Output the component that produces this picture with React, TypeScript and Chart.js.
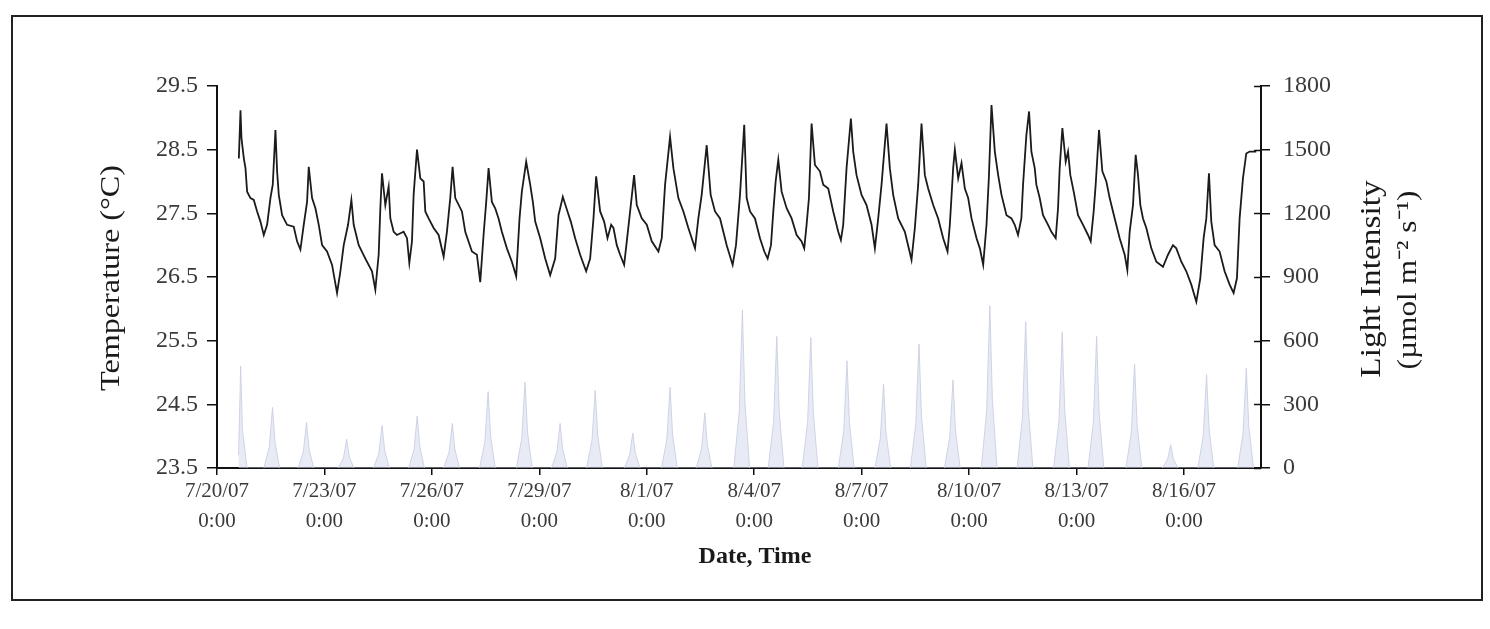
import React, { useEffect, useRef } from 'react';
import { Chart, registerables } from 'chart.js';

Chart.register(...registerables);

// Time axis: days since 7/20/07 0:00
const xTickDays = [0, 3, 6, 9, 12, 15, 18, 21, 24, 27];
const xTickDates = ['7/20/07', '7/23/07', '7/26/07', '7/29/07', '8/1/07', '8/4/07', '8/7/07', '8/10/07', '8/13/07', '8/16/07'];
const xTickTime = '0:00';
const xMin = 0;
const xMax = 29.15;

const tempTicks = [23.5, 24.5, 25.5, 26.5, 27.5, 28.5, 29.5];
const lightTicks = [0, 300, 600, 900, 1200, 1500, 1800];

const yTitle = 'Temperature (°C)';
const y1TitleLines = ['Light Intensity', '(µmol m⁻² s⁻¹)'];
const xTitle = 'Date, Time';

// Temperature (°C) readings
const tempDays = [
  0.61, 0.656, 0.683, 0.75, 0.795, 0.841, 0.934, 1.027, 1.12, 1.213, 1.306, 1.399, 1.492, 1.557, 1.632, 1.678, 1.725, 1.818, 1.957,
  2.143, 2.236, 2.329, 2.422, 2.515, 2.562, 2.655, 2.748, 2.841, 2.934, 3.073, 3.213, 3.352, 3.445, 3.538, 3.659, 3.752, 3.817, 3.957,
  4.142, 4.328, 4.421, 4.514, 4.561, 4.607, 4.7, 4.793, 4.84, 4.933, 5.025, 5.211, 5.305, 5.37, 5.444, 5.49, 5.584, 5.677, 5.77, 5.816,
  5.909, 6.049, 6.188, 6.328, 6.42, 6.513, 6.578, 6.653, 6.839, 6.932, 7.118, 7.257, 7.35,
  7.443, 7.517, 7.583, 7.675, 7.768, 7.861, 7.954, 8.094, 8.233, 8.354, 8.447, 8.512, 8.633, 8.745, 8.819, 8.885, 9.024, 9.164, 9.303,
  9.442, 9.535, 9.656, 9.786, 9.879, 10.0, 10.14, 10.307, 10.419, 10.512, 10.586, 10.698, 10.81, 10.903, 11.005, 11.07, 11.163, 11.256,
  11.368, 11.442, 11.535, 11.646, 11.721, 11.86, 12.0, 12.139, 12.325, 12.418, 12.511, 12.65, 12.743, 12.882, 13.022, 13.161, 13.347,
  13.44, 13.533, 13.673, 13.784, 13.905, 14.045, 14.231, 14.398, 14.491, 14.603, 14.721,
  14.789, 14.882, 15.021, 15.161, 15.282, 15.375, 15.468, 15.533, 15.598, 15.672, 15.765, 15.905, 16.044, 16.184, 16.323, 16.397, 16.462,
  16.528, 16.602, 16.695, 16.834, 16.927, 17.067, 17.206, 17.346, 17.42, 17.485, 17.578, 17.699, 17.764, 17.857, 17.997, 18.136, 18.276,
  18.369, 18.462, 18.555, 18.694, 18.787, 18.88, 19.02, 19.206, 19.392, 19.485, 19.578, 19.671, 19.764, 19.857, 19.997, 20.136, 20.276,
  20.397, 20.462, 20.555, 20.602, 20.695, 20.788, 20.881, 20.974, 21.067, 21.207, 21.3, 21.393, 21.486, 21.551, 21.625, 21.718, 21.811,
  21.904, 22.044, 22.183,
  22.274, 22.366, 22.459, 22.506, 22.599, 22.674, 22.739, 22.832, 22.878, 22.971, 23.064, 23.204, 23.297, 23.418, 23.483, 23.529, 23.604,
  23.697, 23.762, 23.827, 23.92, 24.041, 24.181, 24.32, 24.395, 24.478, 24.534, 24.627, 24.72, 24.832, 24.925, 25.065, 25.204, 25.344,
  25.418, 25.483, 25.576, 25.651, 25.716, 25.781, 25.855, 25.948, 26.088, 26.227, 26.413, 26.553, 26.692, 26.785, 26.925, 27.064, 27.204,
  27.344, 27.455, 27.548, 27.623, 27.697, 27.762, 27.855, 27.995, 28.134, 28.274, 28.385, 28.478, 28.553, 28.646, 28.739, 28.832, 29.018,
];
const tempValues = [
  28.36, 29.12, 28.68, 28.36, 28.21, 27.84, 27.74, 27.71, 27.53, 27.37, 27.16, 27.32, 27.74, 27.95, 28.81, 28.16, 27.79, 27.47, 27.32,
  27.29, 27.06, 26.93, 27.32, 27.68, 28.23, 27.74, 27.58, 27.32, 27.0, 26.9, 26.69, 26.25, 26.59, 27.0, 27.32, 27.71, 27.32, 27.0,
  26.79, 26.59, 26.3, 26.85, 27.58, 28.13, 27.63, 27.92, 27.42, 27.21, 27.16, 27.21, 27.11, 26.72, 27.06, 27.79, 28.5, 28.05, 28.0, 27.53,
  27.42, 27.27, 27.16, 26.82, 27.21, 27.74, 28.23, 27.74, 27.53, 27.21, 26.9, 26.85, 26.42,
  27.16, 27.68, 28.21, 27.68, 27.58, 27.42, 27.21, 26.95, 26.74, 26.51, 27.42, 27.84, 28.31, 27.95, 27.68, 27.37, 27.11, 26.79, 26.53,
  26.79, 27.47, 27.76, 27.53, 27.37, 27.11, 26.85, 26.59, 26.79, 27.42, 28.08, 27.53, 27.37, 27.11, 27.32, 27.27, 27.0, 26.85,
  26.69, 27.06, 27.53, 28.1, 27.63, 27.42, 27.32, 27.06, 26.9, 27.11, 27.95, 28.7, 28.21, 27.74, 27.53, 27.27, 26.95,
  27.42, 27.79, 28.57, 27.79, 27.53, 27.42, 27.0, 26.69, 27.0, 27.79, 28.89,
  27.74, 27.53, 27.42, 27.11, 26.9, 26.79, 27.0, 27.53, 28.0, 28.34, 27.84, 27.58, 27.42, 27.16, 27.06, 26.95, 27.32,
  27.74, 28.91, 28.26, 28.16, 27.95, 27.89, 27.53, 27.21, 27.08, 27.32, 28.21, 28.99, 28.47, 28.1, 27.79, 27.63, 27.32,
  26.95, 27.42, 27.95, 28.91, 28.21, 27.79, 27.42, 27.21, 26.77, 27.27, 27.95, 28.91, 28.1, 27.89, 27.63, 27.42, 27.11,
  26.9, 27.32, 28.21, 28.5, 28.05, 28.29, 27.89, 27.74, 27.42, 27.11, 26.95, 26.69, 27.32, 28.05, 29.2, 28.47, 28.1,
  27.79, 27.47, 27.42,
  27.32, 27.16, 27.42, 27.95, 28.73, 29.1, 28.47, 28.21, 27.95, 27.74, 27.47, 27.32, 27.21, 27.11, 27.58, 28.21, 28.84,
  28.31, 28.47, 28.1, 27.84, 27.47, 27.32, 27.16, 27.06, 27.53, 27.95, 28.81, 28.16, 28.0, 27.74, 27.42, 27.11, 26.85,
  26.61, 27.21, 27.63, 28.42, 28.1, 27.63, 27.42, 27.27, 26.95, 26.74, 26.66, 26.85, 27.0, 26.95, 26.74, 26.59, 26.38,
  26.11, 26.48, 27.11, 27.42, 28.13, 27.37, 27.0, 26.9, 26.59, 26.38, 26.25, 26.48, 27.42, 28.05, 28.44, 28.47, 28.47,
];

// Light intensity (µmol m-2 s-1) readings, one spike per day
const lightDays = [
  0.6, 0.63, 0.66, 0.71, 0.84,
  1.31, 1.46, 1.55, 1.62, 1.75,
  2.26, 2.41, 2.5, 2.57, 2.7,
  3.38, 3.53, 3.62, 3.69, 3.82,
  4.37, 4.52, 4.61, 4.68, 4.81,
  5.35, 5.5, 5.59, 5.66, 5.79,
  6.33, 6.48, 6.57, 6.64, 6.77,
  7.33, 7.48, 7.57, 7.64, 7.77,
  8.36, 8.51, 8.6, 8.67, 8.8,
  9.34, 9.49, 9.58, 9.65, 9.78,
  10.32, 10.47, 10.56, 10.63, 10.76,
  11.37, 11.52, 11.61, 11.68, 11.81,
  12.41, 12.56, 12.65, 12.72, 12.85,
  13.38, 13.53, 13.62, 13.69, 13.82,
  14.43, 14.58, 14.67, 14.74, 14.87,
  15.39, 15.54, 15.63, 15.7, 15.83,
  16.34, 16.49, 16.58, 16.65, 16.78,
  17.35, 17.5, 17.59, 17.66, 17.79,
  18.37, 18.52, 18.61, 18.68, 18.81,
  19.36, 19.51, 19.6, 19.67, 19.8,
  20.31, 20.46, 20.55, 20.62, 20.75,
  21.34, 21.49, 21.58, 21.65, 21.78,
  22.34, 22.49, 22.58, 22.65, 22.78,
  23.36, 23.51, 23.6, 23.67, 23.8,
  24.32, 24.47, 24.56, 24.63, 24.76,
  25.38, 25.53, 25.62, 25.69, 25.82,
  26.39, 26.54, 26.63, 26.7, 26.83,
  27.39, 27.54, 27.63, 27.7, 27.83,
  28.5, 28.65, 28.74, 28.81, 28.94,
];
const lightValues = [
  60, 250, 480, 180, 0,
  0, 100, 285, 120, 0,
  0, 75, 215, 90, 0,
  0, 45, 135, 55, 0,
  0, 70, 200, 85, 0,
  0, 85, 245, 105, 0,
  0, 75, 210, 90, 0,
  0, 125, 360, 150, 0,
  0, 140, 405, 170, 0,
  0, 75, 210, 90, 0,
  0, 130, 365, 155, 0,
  0, 60, 165, 70, 0,
  0, 135, 380, 160, 0,
  0, 90, 260, 110, 0,
  0, 260, 745, 310, 0,
  0, 215, 620, 260, 0,
  0, 215, 615, 260, 0,
  0, 175, 505, 210, 0,
  0, 140, 395, 165, 0,
  0, 205, 585, 245, 0,
  0, 145, 415, 175, 0,
  0, 270, 765, 320, 0,
  0, 240, 690, 290, 0,
  0, 225, 640, 270, 0,
  0, 215, 620, 260, 0,
  0, 170, 490, 205, 0,
  0, 40, 110, 45, 0,
  0, 155, 440, 185, 0,
  0, 165, 470, 195, 0,
];

const FONT = '"Liberation Serif", "Times New Roman", serif';
const AXIS_COLOR = '#111111';
const TICK_COLOR = '#3a3a3a';

const decorPlugin = {
  id: 'decor',
  afterDraw(chart: any) {
    const ctx = chart.ctx as CanvasRenderingContext2D;
    const area = chart.chartArea;
    const y1 = chart.scales.y1;
    ctx.save();
    // inner half of the crossing ticks on the right axis
    ctx.strokeStyle = AXIS_COLOR;
    ctx.lineWidth = 1.5;
    for (const v of lightTicks) {
      const py = Math.round(y1.getPixelForValue(v)) + 0.5;
      ctx.beginPath();
      ctx.moveTo(area.right - 7, py);
      ctx.lineTo(area.right, py);
      ctx.stroke();
    }
    ctx.fillStyle = '#1a1a1a';
    ctx.textAlign = 'center';
    ctx.textBaseline = 'middle';
    const drawRot = (text: string, x: number, y: number, font: string, sx: number) => {
      ctx.save();
      ctx.translate(x, y);
      ctx.rotate(-Math.PI / 2);
      ctx.scale(sx, 1);
      ctx.font = font;
      ctx.fillText(text, 0, 0);
      ctx.restore();
    };
    drawRot(yTitle, 112, 278, `28px ${FONT}`, 1.15);
    drawRot(y1TitleLines[0], 1372, 279, `29px ${FONT}`, 1.15);
    drawRot(y1TitleLines[1], 1409, 280, `28px ${FONT}`, 1.12);
    ctx.font = `bold 24px ${FONT}`;
    ctx.fillText(xTitle, 755, 557);
    ctx.restore();
  },
};

export default function App() {
  const ref = useRef<HTMLCanvasElement>(null);

  useEffect(() => {
    const canvas = ref.current;
    if (!canvas) return;
    const tempData = tempDays.map((d, i) => ({ x: d, y: tempValues[i] }));
    const lightData = lightDays.map((d, i) => ({ x: d, y: lightValues[i] }));

    const chart = new Chart(canvas, {
      type: 'line',
      data: {
        datasets: [
          {
            label: 'Temperature',
            data: tempData,
            yAxisID: 'y',
            borderColor: '#1b1b1b',
            borderWidth: 1.8,
            pointRadius: 0,
            tension: 0,
            fill: false,
            order: 0,
          },
          {
            label: 'Light Intensity',
            data: lightData,
            yAxisID: 'y1',
            borderColor: 'rgba(200,206,226,0.85)',
            backgroundColor: 'rgba(214,219,236,0.55)',
            borderWidth: 1,
            pointRadius: 0,
            tension: 0,
            fill: 'origin',
            order: 1,
          },
        ],
      },
      options: {
        animation: false,
        responsive: false,
        maintainAspectRatio: false,
        devicePixelRatio: 1,
        parsing: false as any,
        layout: { padding: { top: 86, left: 0, right: 0, bottom: 0 } },
        plugins: {
          legend: { display: false },
          tooltip: { enabled: false },
          title: { display: false },
        },
        scales: {
          x: {
            type: 'linear',
            position: 'bottom',
            min: xMin,
            max: xMax,
            afterBuildTicks: (s: any) => {
              s.ticks = xTickDays.map((v) => ({ value: v }));
            },
            afterFit: (s: any) => {
              s.height = 161;
            },
            ticks: {
              autoSkip: false,
              maxRotation: 0,
              minRotation: 0,
              padding: 2,
              color: TICK_COLOR,
              font: { family: FONT, size: 21, lineHeight: 1.4 },
              callback: (v: any) => {
                const i = xTickDays.indexOf(Number(v));
                return i >= 0 ? [xTickDates[i], xTickTime] : '';
              },
            },
            grid: {
              display: true,
              drawOnChartArea: false,
              drawTicks: true,
              tickLength: 7,
              color: AXIS_COLOR,
              lineWidth: 1.5,
            },
            border: { display: true, color: AXIS_COLOR, width: 2 },
          },
          y: {
            type: 'linear',
            position: 'left',
            min: 23.5,
            max: 29.5,
            afterBuildTicks: (s: any) => {
              s.ticks = tempTicks.map((v) => ({ value: v }));
            },
            afterFit: (s: any) => {
              s.width = 217;
            },
            ticks: {
              padding: 9,
              color: TICK_COLOR,
              font: { family: FONT, size: 24 },
              callback: (v: any) => Number(v).toFixed(1),
            },
            grid: {
              display: true,
              drawOnChartArea: false,
              drawTicks: true,
              tickLength: 10,
              color: AXIS_COLOR,
              lineWidth: 1.5,
            },
            border: { display: true, color: AXIS_COLOR, width: 2 },
          },
          y1: {
            type: 'linear',
            position: 'right',
            min: 0,
            max: 1800,
            afterBuildTicks: (s: any) => {
              s.ticks = lightTicks.map((v) => ({ value: v }));
            },
            afterFit: (s: any) => {
              s.width = 229;
            },
            ticks: {
              padding: 13,
              color: TICK_COLOR,
              font: { family: FONT, size: 24 },
              callback: (v: any) => String(v),
            },
            grid: {
              display: true,
              drawOnChartArea: false,
              drawTicks: true,
              tickLength: 9,
              color: AXIS_COLOR,
              lineWidth: 1.5,
            },
            border: { display: true, color: AXIS_COLOR, width: 2 },
          },
        },
      },
      plugins: [decorPlugin],
    });
    return () => chart.destroy();
  }, []);

  return (
    <div>
      <div
        style={{
          position: 'fixed',
          left: 11,
          top: 15,
          width: 1472,
          height: 586,
          border: '2px solid #222',
          boxSizing: 'border-box',
          background: '#fff',
        }}
      />
      <canvas
        ref={ref}
        width={1490}
        height={629}
        style={{ position: 'fixed', left: 0, top: 0, width: 1490, height: 629, display: 'block' }}
      />
    </div>
  );
}
